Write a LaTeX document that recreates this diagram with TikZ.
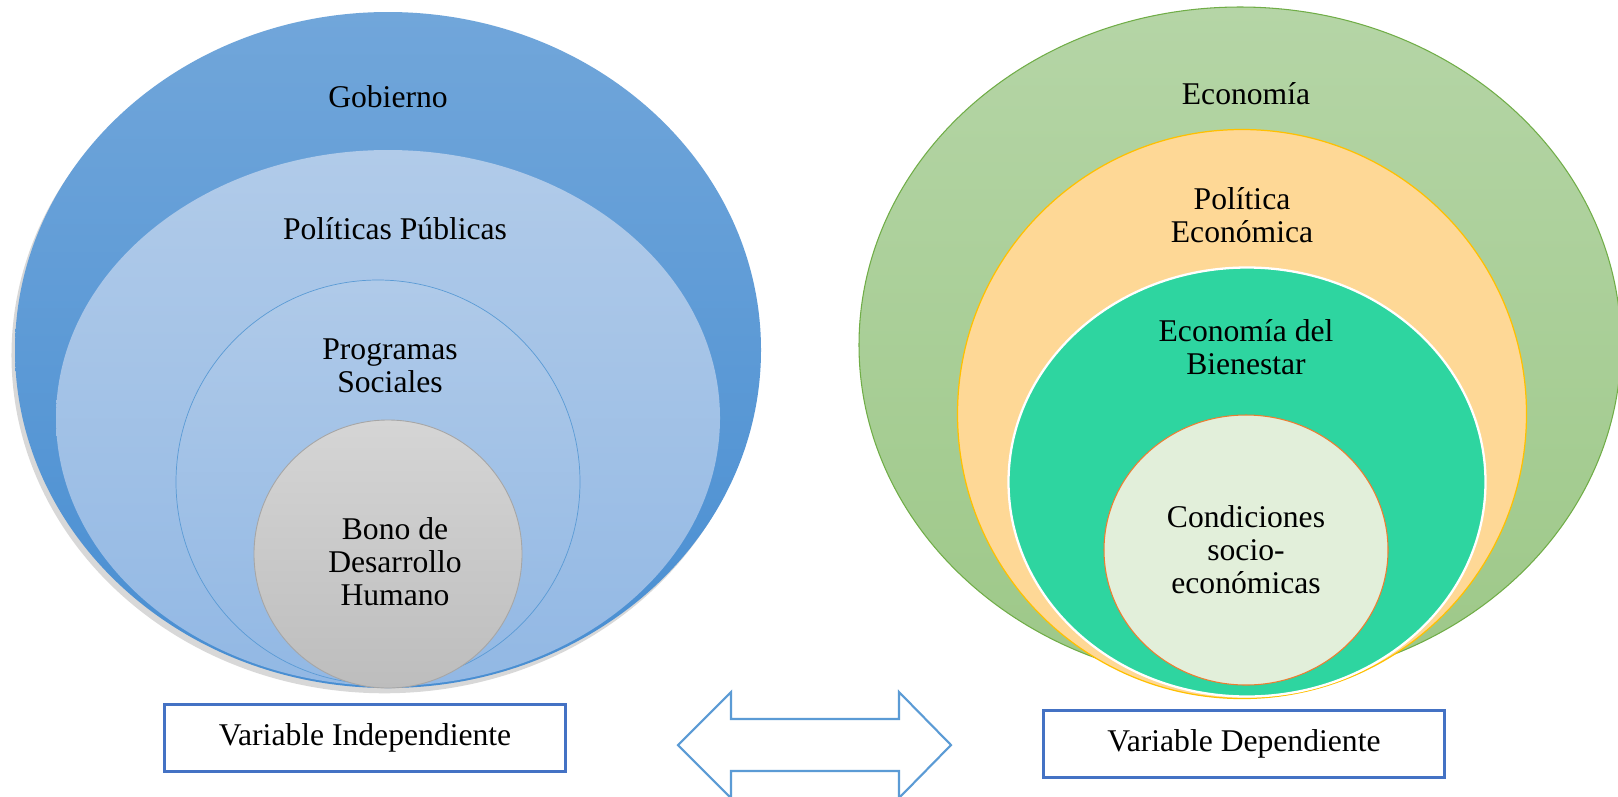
\documentclass[tikz,border=0pt]{standalone}
\usepackage{fontspec}
\setmainfont{Liberation Serif}
\usepackage{tikz}
\usetikzlibrary{shapes.geometric,shadows}

\definecolor{gobtop}{RGB}{113,166,218}
\definecolor{gobbot}{RGB}{72,142,210}
\definecolor{poltop}{RGB}{177,203,233}
\definecolor{polbot}{RGB}{146,184,228}
\definecolor{lineblue}{RGB}{91,155,213}
\definecolor{bonotop}{RGB}{213,213,213}
\definecolor{bonobot}{RGB}{189,189,189}
\definecolor{ecotop}{RGB}{181,213,166}
\definecolor{ecobot}{RGB}{157,200,136}
\definecolor{ecoline}{RGB}{112,173,71}
\definecolor{peyellow}{RGB}{254,216,150}
\definecolor{peline}{RGB}{255,192,0}
\definecolor{bienteal}{RGB}{46,213,160}
\definecolor{condfill}{RGB}{226,239,218}
\definecolor{condline}{RGB}{237,125,49}
\definecolor{boxblue}{RGB}{68,114,196}

\newcommand{\px}{0.02cm}

\begin{document}
\begin{tikzpicture}[x=0.02cm, y=-0.02cm,
        font=\fontsize{18}{18.8}\selectfont,
        zone/.style={ellipse, inner sep=0pt},
        ring/.style={circle, inner sep=0pt},
        lbl/.style={align=center, inner sep=0pt},
        varbox/.style={draw=boxblue, line width=1.2pt, fill=white, inner sep=0pt,
            minimum width=401*\px, minimum height=67*\px}]
        \useasboundingbox[fill=white] (0,0) rectangle (1618,796);

        % variable independiente
        \node[zone, top color=gobtop, bottom color=gobbot, minimum width=746*\px, minimum height=676*\px,
            drop shadow={shadow xshift=-2pt, shadow yshift=-3pt, opacity=0.3}] (gob) at (388,350) {};
        \node[zone, top color=poltop, bottom color=polbot, minimum width=664*\px, minimum height=536*\px] (pol) at (388,418) {};
        \node[ring, draw=lineblue, line width=0.4pt, top color=poltop!95!polbot, bottom color=polbot, minimum size=404*\px] (prog) at (378,482) {};
        \node[ring, draw=gray!70, line width=0.5pt, top color=bonotop, bottom color=bonobot, minimum size=268*\px] (bono) at (388,554) {};

        \node[lbl] (gobTxt) at (388,97) {Gobierno};
        \node[lbl] (polTxt) at (395,229) {Políticas Públicas};
        \node[lbl] (progTxt) at (390,366) {Programas\\Sociales};
        \node[lbl] (bonoTxt) at (395,562) {Bono de\\Desarrollo\\Humano};

        % variable dependiente
        \node[zone, draw=ecoline, line width=0.6pt, top color=ecotop, bottom color=ecobot, minimum width=762*\px, minimum height=676*\px] (eco) at (1240,345) {};
        \node[ring, draw=peline, line width=0.7pt, fill=peyellow, minimum size=569*\px] (pe) at (1242,414) {};
        \node[zone, draw=white, line width=1.3pt, fill=bienteal, minimum width=477*\px, minimum height=429*\px] (bien) at (1247,482) {};
        \node[zone, draw=condline, line width=0.6pt, fill=condfill, minimum width=284*\px, minimum height=270*\px] (cond) at (1246,550) {};

        \node[lbl] (ecoTxt) at (1246,94) {Economía};
        \node[lbl] (peTxt) at (1242,215) {Política\\Económica};
        \node[lbl] (bienTxt) at (1246,347) {Economía del\\Bienestar};
        \node[lbl] (condTxt) at (1246,550) {Condiciones\\socio-\\económicas};

        % cajas y flecha
        \node[varbox] (indep) at (365,738) {Variable Independiente};
        \node[varbox] (dep) at (1244,744) {Variable Dependiente};

        \draw[lineblue, line width=1.2pt, line join=miter, fill=white]
            (678,745) -- (731,692) -- (731,719) -- (899,719) -- (899,692) -- (951,745)
            -- (899,798) -- (899,771) -- (731,771) -- (731,798) -- cycle;
    \end{tikzpicture}
\end{document}
